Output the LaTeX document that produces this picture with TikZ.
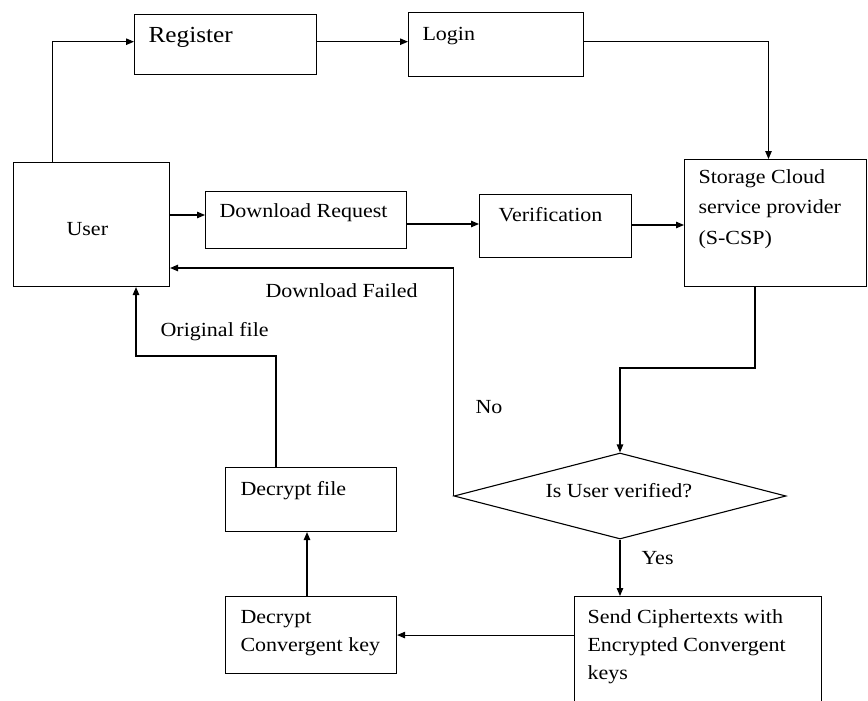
\documentclass[tikz,border=0pt]{standalone}
\usepackage{fontspec}
\setmainfont{Liberation Serif}[FakeStretch=1.1]
\usetikzlibrary{arrows.meta,shapes.geometric}
\begin{document}
\begin{tikzpicture}[x=1pt,y=-1pt, line width=1.1pt,
  box/.style={draw, rectangle, inner sep=0pt, anchor=north west},
  dia/.style={draw, diamond, inner sep=0pt, minimum width=332pt, minimum height=86pt, aspect=3.86},
  lbl/.style={anchor=base west, inner sep=0pt, font=\fontsize{20}{24}\selectfont},
  big/.style={font=\fontsize{23}{28}\selectfont},
  arr/.style={-{Triangle[length=8pt,width=6.5pt]}}]
\useasboundingbox (0,0) rectangle (868,701);
\fill[white] (0,0) rectangle (868,701);
\clip (0,0) rectangle (868,701);
% boxes
\node[box, minimum width=182pt, minimum height=60pt] (reg) at (134,14) {};
\node[box, minimum width=175pt, minimum height=64pt] (login) at (408,12) {};
\node[box, minimum width=156pt, minimum height=124pt] (user) at (13,162) {};
\node[box, minimum width=201pt, minimum height=57pt] (dr) at (205,191) {};
\node[box, minimum width=152pt, minimum height=63pt] (ver) at (479,194) {};
\node[box, minimum width=182pt, minimum height=127pt] (scsp) at (684,159) {};
\node[dia] (dia) at (620,496) {};
\node[box, minimum width=247pt, minimum height=125pt] (send) at (574,596) {};
\node[box, minimum width=171pt, minimum height=77pt] (dck) at (225,596) {};
\node[box, minimum width=171pt, minimum height=64pt] (dfile) at (225,467) {};
% texts
\node[lbl, big] (tReg) at (148,43) {Register};
\node[lbl] (tLogin) at (422,41) {Login};
\node[lbl] (tUser) at (66,235) {User};
\node[lbl] (tDR) at (219,217) {Download Request};
\node[lbl] (tVer) at (498,221) {Verification};
\node[lbl] (tS1) at (698,183) {Storage Cloud};
\node[lbl] (tS2) at (698,213) {service provider};
\node[lbl] (tS3) at (698,244) {(S-CSP)};
\node[lbl] (tDF) at (265,297) {Download Failed};
\node[lbl] (tOF) at (160,336) {Original file};
\node[lbl] (tNo) at (475,413) {No};
\node[lbl] (tIs) at (545,497) {Is User verified?};
\node[lbl] (tYes) at (641,564) {Yes};
\node[lbl] (tDf) at (240,495) {Decrypt file};
\node[lbl] (tD1) at (240,623) {Decrypt};
\node[lbl] (tD2) at (240,651) {Convergent key};
\node[lbl] (tSe1) at (587,623) {Send Ciphertexts with};
\node[lbl] (tSe2) at (587,651) {Encrypted Convergent};
\node[lbl] (tSe3) at (587,679) {keys};
% connectors
\coordinate (c1) at (52.6,41.7);
\coordinate (c2) at (768.5,41.7);
\draw[arr] (user.north -| c1) |- (reg.west |- c1);
\draw[arr] (reg.east |- c1) -- (login.west |- c1);
\draw[arr] (login.east |- c2) -| (scsp.north -| c2);
\coordinate (c3) at (0,215);
\draw[arr] (user.east |- c3) -- (dr.west |- c3);
\coordinate (c4) at (0,224);
\draw[arr] (dr.east |- c4) -- (ver.west |- c4);
\coordinate (c5) at (0,225);
\draw[arr] (ver.east |- c5) -- (scsp.west |- c5);
\coordinate (c6) at (454,268);
\draw[arr] (dia.west) -- (dia.west |- c6) -- (user.east |- c6);
\coordinate (c7) at (755,368);
\draw[arr] (scsp.south -| c7) -- (c7) -| (dia.north);
\draw[arr] (dia.south) -- (dia.south |- send.north);
\draw[arr] (send.west |- dck.east) -- (dck.east);
\coordinate (c8) at (307,0);
\draw[arr] (dck.north -| c8) -- (dfile.south -| c8);
\coordinate (c9) at (276,356);
\coordinate (c10) at (136,356);
\draw[arr] (dfile.north -| c9) -- (c9) -- (c10) -- (user.south -| c10);
\end{tikzpicture}
\end{document}
